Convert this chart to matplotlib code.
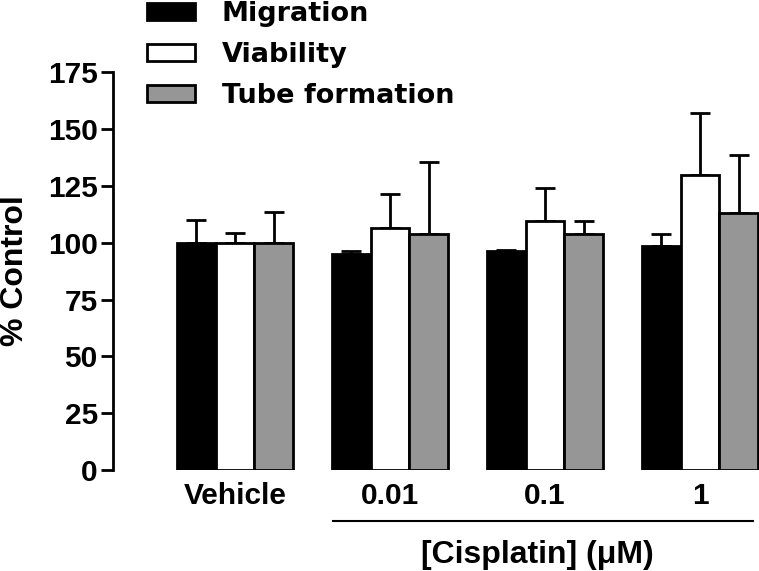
import matplotlib
matplotlib.use("Agg")
import matplotlib.pyplot as plt
import matplotlib.transforms as mtransforms
import numpy as np

groups = ["Vehicle", "0.01", "0.1", "1"]
series = ["Migration", "Viability", "Tube formation"]
migration = [100, 95.0, 96.5, 98.7]
migration_err = [10, 1.2, 0.2, 5.3]
viability = [100, 106.6, 109.4, 129.9]
viability_err = [4.3, 15.0, 14.6, 27.3]
tube = [100, 103.8, 103.8, 113.2]
tube_err = [13.5, 31.7, 5.6, 25.5]
colors = ["#000000", "#ffffff", "#969696"]

plt.rcParams['font.family'] = ['Liberation Sans', 'DejaVu Sans']
plt.rcParams['font.weight'] = 'bold'

fig = plt.figure(figsize=(7.59, 5.71), dpi=100)
ax = fig.add_axes([0.149, 0.1769, 0.851, 0.6965])

x = np.arange(len(groups))
w = 0.25
vals = [migration, viability, tube]
errs = [migration_err, viability_err, tube_err]
for i, (v, e, c, name) in enumerate(zip(vals, errs, colors, series)):
    pos = x + (i - 1) * w
    ax.bar(pos, v, width=w, color=c, edgecolor="black", linewidth=2, label=name, zorder=2)
    ax.errorbar(pos, v, yerr=[np.zeros(len(e)), e], fmt="none", ecolor="black",
                elinewidth=2, capsize=7, capthick=2, zorder=1)

ax.set_xlim(-0.787, 3.38)
ax.set_ylim(0, 175)
ax.set_yticks([0, 25, 50, 75, 100, 125, 150, 175])
ax.spines['top'].set_visible(False)
ax.spines['right'].set_visible(False)
ax.spines['bottom'].set_visible(False)
ax.spines['left'].set_linewidth(2)
ax.tick_params(axis='y', direction='out', length=9, width=2, labelsize=21.5, pad=2)
ax.tick_params(axis='x', length=0, labelsize=21.5, pad=8.5)
ax.set_xticks(x)
ax.set_xticklabels(groups, fontweight='bold')
for lab in ax.get_yticklabels():
    lab.set_fontweight('bold')

fig.text(15 / 759, 1 - 271 / 571, "% Control", rotation=90, ha="center", va="center",
         fontsize=23, fontweight='bold')

trans = mtransforms.blended_transform_factory(ax.transData, ax.transAxes)
ax.plot([0.632, 3.342], [-0.1275, -0.1275], color="black", lw=1.5, transform=trans, clip_on=False)
ax.text(1.948, -0.2338, "[Cisplatin] (\u03bcM)", transform=trans, ha="center", va="baseline",
        fontsize=23, fontweight='bold')

leg = ax.legend(loc="upper left", bbox_to_anchor=(146.7 / 759, 0.998),
                bbox_transform=fig.transFigure, frameon=False,
                prop={'family': 'DejaVu Sans', 'weight': 'bold', 'size': 19.5},
                handlelength=1.78, handleheight=0.63, handletextpad=1.0,
                labelspacing=0.55, borderpad=0, borderaxespad=0)

fig.savefig("out.png", dpi=100)
